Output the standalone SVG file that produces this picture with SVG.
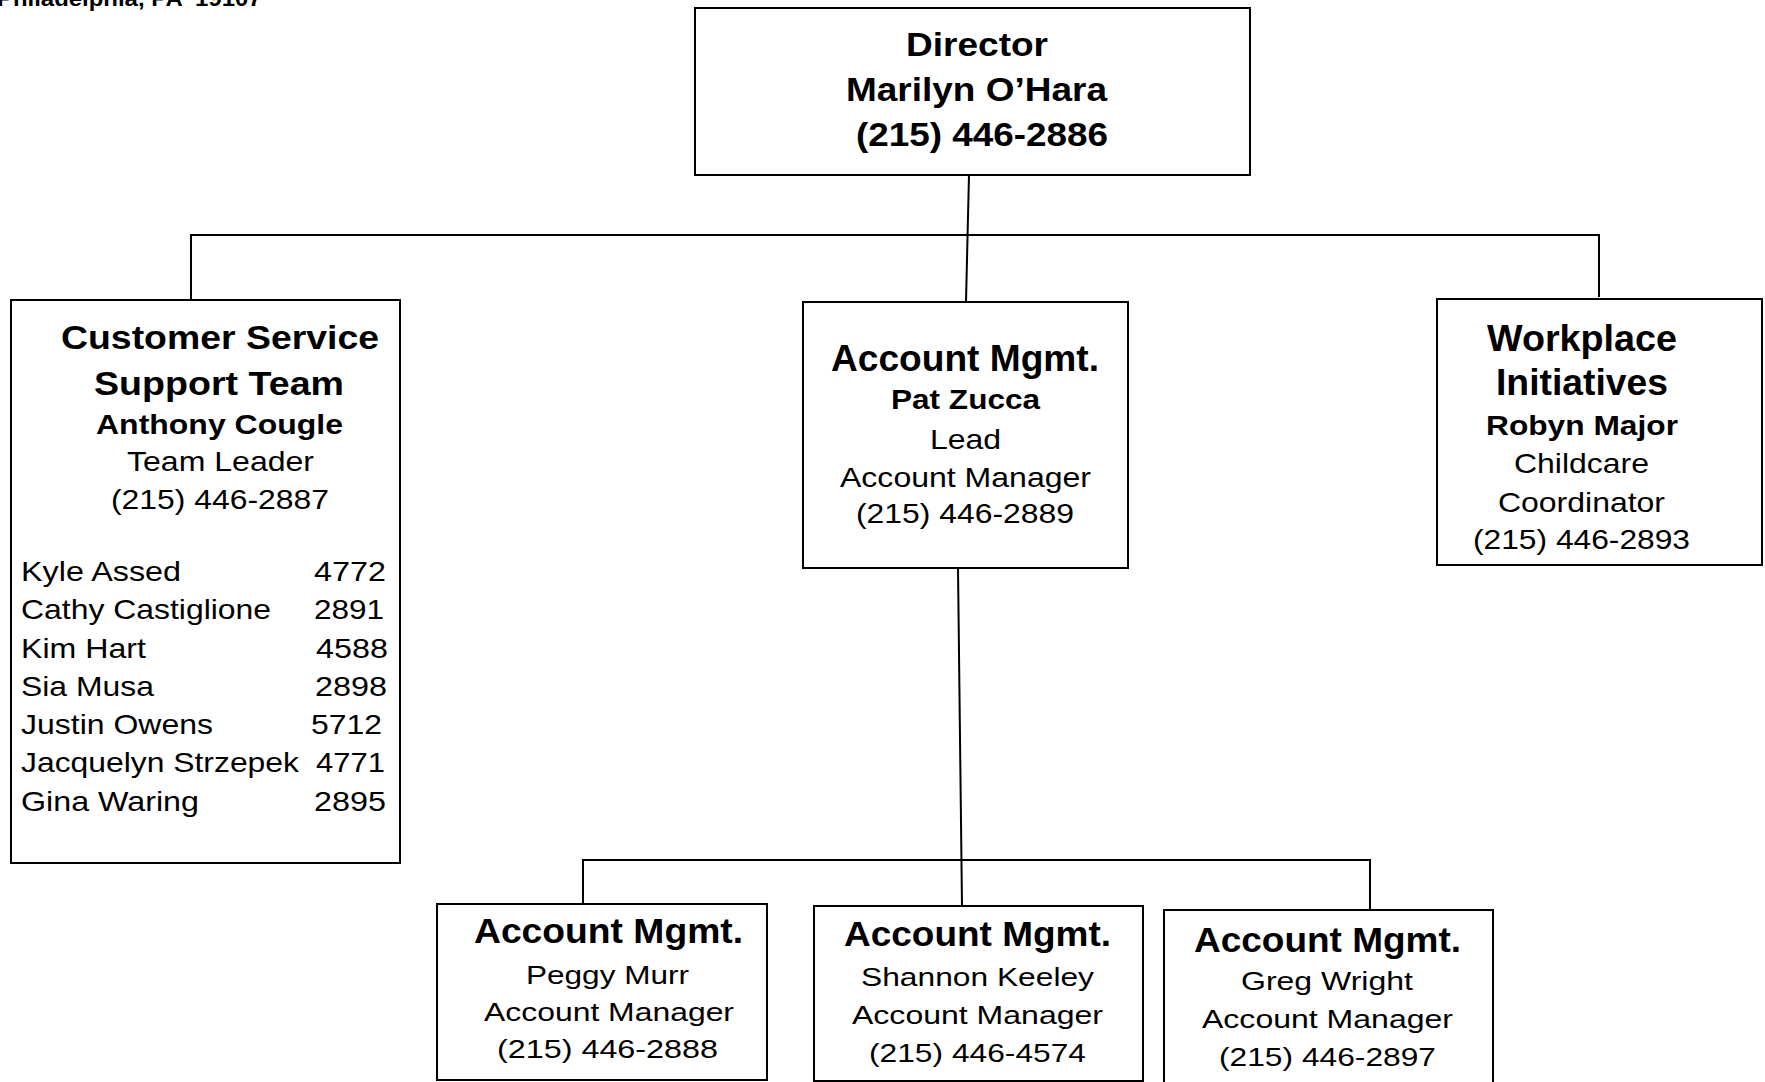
<svg xmlns="http://www.w3.org/2000/svg" width="1765" height="1082" viewBox="0 0 1765 1082">
<style>
.box{fill:#fff;stroke:#000;stroke-width:2}
.ln{stroke:#000;stroke-width:2;fill:none}
text{font-family:"Liberation Sans",Arial,sans-serif;fill:#000}
.b{font-weight:bold}
</style>
<rect x="0" y="0" width="1765" height="1082" fill="#fff"/>
<text id="header" class="b" transform="translate(-3,6) scale(1.08,1)" font-size="22" textLength="245" lengthAdjust="spacingAndGlyphs" xml:space="preserve">Philadelphia, PA  19107</text>

<g id="connectors">
<line class="ln" x1="969" y1="175" x2="966" y2="302"/>
<line class="ln" x1="190" y1="235" x2="1600" y2="235"/>
<line class="ln" x1="191" y1="235" x2="191" y2="300"/>
<line class="ln" x1="1599" y1="235" x2="1599" y2="297"/>
<line class="ln" x1="958" y1="568" x2="962" y2="906"/>
<line class="ln" x1="582" y1="860" x2="1371" y2="860"/>
<line class="ln" x1="583" y1="860" x2="583" y2="904"/>
<line class="ln" x1="1370" y1="860" x2="1370" y2="910"/>
</g>

<g id="director">
<rect class="box" x="695" y="8" width="555" height="167"/>
<text class="b" transform="translate(906,56) scale(1.12,1)" font-size="33" textLength="126.8" lengthAdjust="spacingAndGlyphs">Director</text>
<text class="b" transform="translate(846,101) scale(1.12,1)" font-size="33" textLength="233" lengthAdjust="spacingAndGlyphs">Marilyn O’Hara</text>
<text class="b" transform="translate(856,146) scale(1.12,1)" font-size="33" textLength="225" lengthAdjust="spacingAndGlyphs">(215) 446-2886</text>
</g>

<g id="customer-service">
<rect class="box" x="11" y="300" width="389" height="563"/>
<text class="b" transform="translate(61,349) scale(1.135,1)" font-size="33" textLength="280.2" lengthAdjust="spacingAndGlyphs">Customer Service</text>
<text class="b" transform="translate(94,395) scale(1.135,1)" font-size="33" textLength="220.3" lengthAdjust="spacingAndGlyphs">Support Team</text>
<text class="b" transform="translate(96,434) scale(1.135,1)" font-size="28" textLength="217.6" lengthAdjust="spacingAndGlyphs">Anthony Cougle</text>
<text transform="translate(127,471) scale(1.135,1)" font-size="28" textLength="164.8" lengthAdjust="spacingAndGlyphs">Team Leader</text>
<text transform="translate(111,509) scale(1.135,1)" font-size="28" textLength="192.1" lengthAdjust="spacingAndGlyphs">(215) 446-2887</text>
<text transform="translate(21,581) scale(1.135,1)" font-size="28" textLength="141" lengthAdjust="spacingAndGlyphs">Kyle Assed</text>
<text transform="translate(314,581) scale(1.135,1)" font-size="28" textLength="63.4" lengthAdjust="spacingAndGlyphs">4772</text>
<text transform="translate(21,619) scale(1.135,1)" font-size="28" textLength="220.3" lengthAdjust="spacingAndGlyphs">Cathy Castiglione</text>
<text transform="translate(314,619) scale(1.135,1)" font-size="28" textLength="61.7" lengthAdjust="spacingAndGlyphs">2891</text>
<text transform="translate(21,658) scale(1.135,1)" font-size="28" textLength="110.1" lengthAdjust="spacingAndGlyphs">Kim Hart</text>
<text transform="translate(316,658) scale(1.135,1)" font-size="28" textLength="63.4" lengthAdjust="spacingAndGlyphs">4588</text>
<text transform="translate(21,696) scale(1.135,1)" font-size="28" textLength="117.2" lengthAdjust="spacingAndGlyphs">Sia Musa</text>
<text transform="translate(315,696) scale(1.135,1)" font-size="28" textLength="63.4" lengthAdjust="spacingAndGlyphs">2898</text>
<text transform="translate(21,734) scale(1.135,1)" font-size="28" textLength="169.2" lengthAdjust="spacingAndGlyphs">Justin Owens</text>
<text transform="translate(311,734) scale(1.135,1)" font-size="28" textLength="62.6" lengthAdjust="spacingAndGlyphs">5712</text>
<text transform="translate(21,772) scale(1.135,1)" font-size="28" textLength="244.9" lengthAdjust="spacingAndGlyphs">Jacquelyn Strzepek</text>
<text transform="translate(316,772) scale(1.135,1)" font-size="28" textLength="60.8" lengthAdjust="spacingAndGlyphs">4771</text>
<text transform="translate(21,811) scale(1.135,1)" font-size="28" textLength="156.8" lengthAdjust="spacingAndGlyphs">Gina Waring</text>
<text transform="translate(314,811) scale(1.135,1)" font-size="28" textLength="63.4" lengthAdjust="spacingAndGlyphs">2895</text>
</g>

<g id="account-lead">
<rect class="box" x="803" y="302" width="325" height="266"/>
<text class="b" transform="translate(831,371) scale(1.03,1)" font-size="36" textLength="260.2" lengthAdjust="spacingAndGlyphs">Account Mgmt.</text>
<text class="b" transform="translate(891,409) scale(1.18,1)" font-size="27" textLength="126.3" lengthAdjust="spacingAndGlyphs">Pat Zucca</text>
<text transform="translate(930,449) scale(1.18,1)" font-size="27" textLength="60.2" lengthAdjust="spacingAndGlyphs">Lead</text>
<text transform="translate(840,487) scale(1.18,1)" font-size="27" textLength="212.7" lengthAdjust="spacingAndGlyphs">Account Manager</text>
<text transform="translate(856,523) scale(1.18,1)" font-size="27" textLength="184.7" lengthAdjust="spacingAndGlyphs">(215) 446-2889</text>
</g>

<g id="workplace">
<rect class="box" x="1437" y="299" width="325" height="266"/>
<text class="b" transform="translate(1487,351) scale(1.04,1)" font-size="36" textLength="182.7" lengthAdjust="spacingAndGlyphs">Workplace</text>
<text class="b" transform="translate(1496,395) scale(1.04,1)" font-size="36" textLength="165.4" lengthAdjust="spacingAndGlyphs">Initiatives</text>
<text class="b" transform="translate(1486,435) scale(1.18,1)" font-size="27" textLength="162.7" lengthAdjust="spacingAndGlyphs">Robyn Major</text>
<text transform="translate(1514,473) scale(1.18,1)" font-size="27" textLength="114.4" lengthAdjust="spacingAndGlyphs">Childcare</text>
<text transform="translate(1498,512) scale(1.18,1)" font-size="27" textLength="141.5" lengthAdjust="spacingAndGlyphs">Coordinator</text>
<text transform="translate(1473,549) scale(1.18,1)" font-size="27" textLength="183.9" lengthAdjust="spacingAndGlyphs">(215) 446-2893</text>
</g>

<g id="peggy">
<rect class="box" x="437" y="904" width="330" height="176"/>
<text class="b" transform="translate(474,943) scale(1.06,1)" font-size="35" textLength="253.8" lengthAdjust="spacingAndGlyphs">Account Mgmt.</text>
<text transform="translate(526,984) scale(1.25,1)" font-size="25.5" textLength="130.4" lengthAdjust="spacingAndGlyphs">Peggy Murr</text>
<text transform="translate(484,1021) scale(1.25,1)" font-size="25.5" textLength="200" lengthAdjust="spacingAndGlyphs">Account Manager</text>
<text transform="translate(497,1058) scale(1.25,1)" font-size="25.5" textLength="176.8" lengthAdjust="spacingAndGlyphs">(215) 446-2888</text>
</g>

<g id="shannon">
<rect class="box" x="814" y="906" width="329" height="175"/>
<text class="b" transform="translate(844,946) scale(1.06,1)" font-size="35" textLength="251.9" lengthAdjust="spacingAndGlyphs">Account Mgmt.</text>
<text transform="translate(861,986) scale(1.25,1)" font-size="25.5" textLength="186.4" lengthAdjust="spacingAndGlyphs">Shannon Keeley</text>
<text transform="translate(852,1024) scale(1.25,1)" font-size="25.5" textLength="200.8" lengthAdjust="spacingAndGlyphs">Account Manager</text>
<text transform="translate(869,1062) scale(1.25,1)" font-size="25.5" textLength="173.6" lengthAdjust="spacingAndGlyphs">(215) 446-4574</text>
</g>

<g id="greg">
<rect class="box" x="1164" y="910" width="329" height="180"/>
<text class="b" transform="translate(1194,952) scale(1.06,1)" font-size="35" textLength="251.9" lengthAdjust="spacingAndGlyphs">Account Mgmt.</text>
<text transform="translate(1241,990) scale(1.25,1)" font-size="25.5" textLength="137.6" lengthAdjust="spacingAndGlyphs">Greg Wright</text>
<text transform="translate(1202,1028) scale(1.25,1)" font-size="25.5" textLength="200.8" lengthAdjust="spacingAndGlyphs">Account Manager</text>
<text transform="translate(1219,1066) scale(1.25,1)" font-size="25.5" textLength="173.6" lengthAdjust="spacingAndGlyphs">(215) 446-2897</text>
</g>
</svg>
